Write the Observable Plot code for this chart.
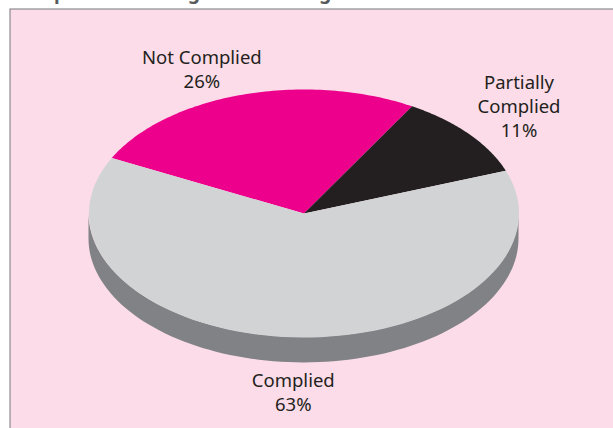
<!DOCTYPE html>
<html><head><meta charset="utf-8">
<style>html,body{margin:0;padding:0;background:#fff;overflow:hidden}svg{display:block}</style>
<script src="https://cdn.jsdelivr.net/npm/d3@7"></script>
<script src="https://cdn.jsdelivr.net/npm/@observablehq/plot@0.6"></script>
</head><body><script>
const categories = ["Not Complied", "Partially Complied", "Complied"];
const shares = [26, 11, 63];
const sliceColors = ["#ec008c", "#231f20", "#d1d3d4"];
const labelLines = [["Not Complied", "26%"], ["Partially", "Complied", "11%"], ["Complied", "63%"]];

const startAngle = -63.4;
const depth = 0.205;
const rad = d => d * Math.PI / 180;
const rim = deg => ({x: Math.sin(rad(deg)), y: Math.cos(rad(deg))});

let acc = startAngle;
const slices = [];
categories.forEach((name, i) => {
  const a0 = acc, a1 = acc + shares[i] * 3.6;
  acc = a1;
  slices.push({name, x: 0, y: 0});
  for (let a = a0; a <= a1 + 1e-6; a += (a1 - a0) / 90) slices.push({name, ...rim(a)});
});
const side = d3.range(90, 270.5, 2).map(a => {
  const p = rim(a);
  return {x: p.x, y1: p.y, y2: p.y - depth};
});
const labelSpots = [{x: -0.475, y: 1.16}, {x: 1.0, y: 0.855}, {x: -0.05, y: -1.445}];
const lineHeight = 0.194;
const labels = labelLines.flatMap((lines, i) => lines.map((t, j) => ({
  t, x: labelSpots[i].x, y: labelSpots[i].y + ((lines.length - 1) / 2 - j) * lineHeight
})));

const chart = Plot.plot({
  width: 613, height: 428,
  marginLeft: 9.5, marginTop: 8.5, marginRight: -2, marginBottom: -2,
  x: {domain: [-1, 1], range: [88.5, 518.5], axis: null},
  y: {domain: [1, -1], range: [89, 337], axis: null},
  style: {background: "#fff", fontFamily: "'Noto Sans', sans-serif"},
  marks: [
    Plot.frame({fill: "#fbdce8", stroke: "#77787b", strokeWidth: 1}),
    Plot.text(["Compliance with Agreed Planning"], {frameAnchor: "top-left", dx: 1.5, dy: -24, fontSize: 19, fontWeight: 700, fill: "#58595b", textAnchor: "start"}),
    Plot.areaY(side, {x: "x", y1: "y1", y2: "y2", fill: "#808285"}),
    Plot.line(slices, {x: "x", y: "y", z: "name", fill: d => sliceColors[categories.indexOf(d.name)], stroke: "none"}),
    Plot.text(labels, {x: "x", y: "y", text: "t", fontSize: 18.5, fill: "#231f20"})
  ]
});
document.body.appendChild(chart);
</script></body></html>
